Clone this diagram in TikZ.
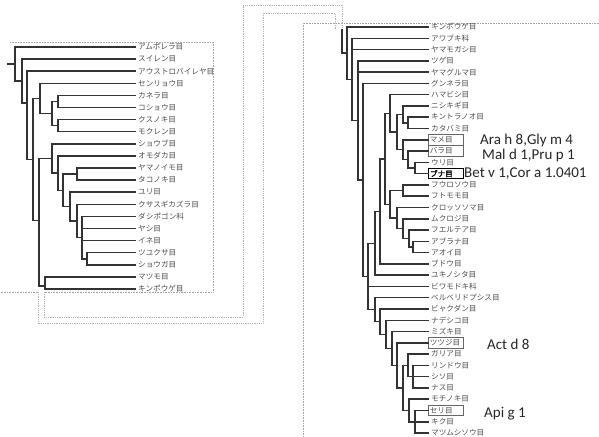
\documentclass[tikz,border=0pt]{standalone}
\usepackage{fontspec}
\setmainfont{Carlito}
\newfontfamily\jpfont{Noto Sans CJK JP}
\newfontfamily\jpbold[FakeBold=2]{Noto Sans CJK JP}
\usetikzlibrary{calc}
\tikzset{
  branch/.style={line width=1.5pt,black!80,line cap=rect},
  frame/.style={densely dotted,gray!70,line width=0.6pt},
  band/.style={densely dotted,gray!60,line width=0.8pt},
  taxon/.style={anchor=west,inner xsep=3pt,inner ysep=0.5pt,font=\jpfont\fontsize{7.6}{8}\selectfont,text=black!70},
  hl/.style={taxon,draw=black!60,line width=0.7pt,text width=32pt,inner sep=1.5pt,minimum height=10.5pt},
  hlbold/.style={hl,draw=black,line width=1.1pt,font=\jpbold\fontsize{7.6}{8}\selectfont,text=black},
  allergen/.style={font=\fontsize{15}{16}\selectfont,text=black!85,anchor=west,inner sep=0pt},
}

\begin{document}
\begin{tikzpicture}[x=1pt,y=-1pt]
  \useasboundingbox (0,0) rectangle (599,436);
  % left panel: basal angiosperms, magnoliids, monocots
  \foreach \n [count=\i from 0] in {アムボレラ目,スイレン目,アウストロバイレヤ目,センリョウ目,カネラ目,コショウ目,クスノキ目,モクレン目,ショウブ目,オモダカ目,ヤマノイモ目,タコノキ目,ユリ目,クサスギカズラ目,ダシポゴン科,ヤシ目,イネ目,ツユクサ目,ショウガ目,マツモ目,キンポウゲ目}
    \node[taxon] (a\i) at (135,{47+12.1*\i}) {\n};
  \coordinate (rootin) at (8,64);
  \coordinate (root) at (15,64);
  \coordinate (nym) at (22,81);
  \coordinate (aus) at (27,103);
  \coordinate (mes) at (33,159.6);
  \coordinate (chl) at (40,98.4);
  \coordinate (mgn) at (52,113.6);
  \coordinate (pip) at (58,101.5);
  \coordinate (lau) at (58,125.6);
  \coordinate (mce) at (39,220.7);
  \coordinate (mon) at (52,158.5);
  \coordinate (ali) at (58,173.1);
  \coordinate (pet) at (63,190.3);
  \coordinate (dio) at (77,174);
  \coordinate (lil) at (70,206.6);
  \coordinate (asp) at (77,221);
  \coordinate (com) at (82,237.6);
  \coordinate (zin) at (87,258.8);
  \coordinate (eud) at (45,286);
  \draw[branch] (rootin) -- (root);
  \foreach \p/\c in {root/a0.west,root/nym,nym/a1.west,nym/aus,aus/a2.west,aus/mes,
      mes/chl,mes/mce,chl/a3.west,chl/mgn,mgn/pip,mgn/lau,pip/a4.west,pip/a5.west,
      lau/a6.west,lau/a7.west}
    \draw[branch] (\p) |- (\c);
  % monocots and the eudicot stem
  \foreach \p/\c in {mce/mon,mce/eud,mon/a8.west,mon/ali,ali/a9.west,ali/pet,pet/dio,pet/lil,
      dio/a10.west,dio/a11.west,lil/a12.west,lil/asp,asp/a13.west,asp/com,com/a14.west,
      com/a15.west,com/a16.west,com/zin,zin/a17.west,zin/a18.west,eud/a19.west,eud/a20.west}
    \draw[branch] (\p) |- (\c);
  \draw[frame] (10,42) -- (213,42) -- (213,292) -- (44,292);
  \draw[frame] (38,292) -- (0,292);

  % band from the left panel down, across and up into the right panel
  \draw[band] (38,292) -- (38,323) -- (263,323) -- (263,13) -- (335,13) -- (335,30);
  \draw[band] (44,292) -- (44,317) -- (243,317) -- (243,5) -- (342,5) -- (342,30);

  % right panel: eudicots
  \draw[frame] (599,23) -- (303,23) -- (303,436);
  \foreach \n/\s [count=\i from 0] in {キンポウゲ目/taxon,アワブキ科/taxon,ヤマモガシ目/taxon,ツゲ目/taxon,
      ヤマグルマ目/taxon,グンネラ目/taxon,ハマビシ目/taxon,ニシキギ目/taxon,キントラノオ目/taxon,
      カタバミ目/taxon,マメ目/hl,バラ目/hl,ウリ目/taxon,ブナ目/hlbold,フウロソウ目/taxon,
      フトモモ目/taxon,クロッソソマ目/taxon,ムクロジ目/taxon,フエルテア目/taxon,アブラナ目/taxon,
      アオイ目/taxon,ブドウ目/taxon,ユキノシタ目/taxon,ビワモドキ科/taxon,ベルベリドプシス目/taxon,
      ビャクダン目/taxon,ナデシコ目/taxon,ミズキ目/taxon,ツツジ目/hl,ガリア目/taxon,リンドウ目/taxon,
      シソ目/taxon,ナス目/taxon,モチノキ目/taxon,セリ目/hl,キク目/taxon,マツムシソウ目/taxon}
    \node[\s] (b\i) at (428,{27+11.28*\i}) {\n};
  \coordinate (rin) at (342,30);
  \coordinate (r0) at (347,53.2);
  \coordinate (r1) at (352,79.4);
  \coordinate (r2) at (358,120.4);
  \coordinate (gun) at (363,180);
  \coordinate (core) at (368,276.5);
  \coordinate (sax) at (375,243.3);
  \coordinate (vit) at (380,211.4);
  \coordinate (ros) at (385,158.9);
  \coordinate (fab0) at (390,113.4);
  \coordinate (fab1) at (397,132);
  \coordinate (com0) at (403,114.4);
  \coordinate (com1) at (408,122.9);
  \coordinate (nfx1) at (403,149.7);
  \coordinate (nfx2) at (408,159.6);
  \coordinate (nfx3) at (415,168);
  \coordinate (mlv0) at (390,204.3);
  \coordinate (ger) at (403,190.6);
  \coordinate (mlv1) at (397,218.1);
  \coordinate (mlv2) at (403,228.6);
  \coordinate (mlv3) at (409,238.5);
  \coordinate (mlv4) at (413,247);
  \coordinate (ber) at (375,309.7);
  \coordinate (san) at (380,321.7);
  \coordinate (car) at (386,334.4);
  \coordinate (ast0) at (392,348.5);
  \coordinate (ast1) at (397,365.4);
  \coordinate (ast2) at (403,388);
  \coordinate (lam0) at (408,365.4);
  \coordinate (lam1) at (413,376.7);
  \coordinate (cam0) at (409,410.5);
  \coordinate (cam1) at (415,421.8);
  \draw[branch] (rin) |- (r0);
  \foreach \p/\c in {r0/b0.west,r0/r1,r1/b1.west,r1/b2.west,r1/r2,r2/b3.west,r2/b4.west,
      r2/gun,gun/b5.west,gun/core,core/sax,core/b23.west,core/ber,sax/vit,sax/b22.west,
      vit/ros,vit/b21.west}
    \draw[branch] (\p) |- (\c);
  % rosids
  \foreach \p/\c in {ros/fab0,ros/mlv0,fab0/b6.west,fab0/fab1,fab1/com0,fab1/nfx1,com0/b7.west,
      com0/com1,com1/b8.west,com1/b9.west,nfx1/b10.west,nfx1/nfx2,nfx2/b11.west,nfx2/nfx3,
      nfx3/b12.west,nfx3/b13.west,mlv0/ger,mlv0/mlv1,ger/b14.west,ger/b15.west,mlv1/b16.west,
      mlv1/mlv2,mlv2/b17.west,mlv2/mlv3,mlv3/b18.west,mlv3/mlv4,mlv4/b19.west,mlv4/b20.west}
    \draw[branch] (\p) |- (\c);
  % Berberidopsidales to asterids
  \foreach \p/\c in {ber/b24.west,ber/san,san/b25.west,san/car,car/b26.west,car/ast0,
      ast0/b27.west,ast0/ast1,ast1/b28.west,ast1/ast2,ast2/lam0,ast2/cam0,lam0/b29.west,
      lam0/lam1,lam1/b30.west,lam1/b31.west,lam1/b32.west,cam0/b33.west,cam0/cam1,
      cam1/b34.west,cam1/b35.west,cam1/b36.west}
    \draw[branch] (\p) |- (\c);

  % allergens
  \node[allergen] (ara) at (480,140.5) {Ara h 8,Gly m 4};
  \node[allergen] (mal) at (482,155) {Mal d 1,Pru p 1};
  \node[allergen] (bet) at (464,173.5) {Bet v 1,Cor a 1.0401};
  \node[allergen] (act) at (487,344) {Act d 8};
  \node[allergen] (api) at (484,414) {Api g 1};
\end{tikzpicture}
\end{document}
